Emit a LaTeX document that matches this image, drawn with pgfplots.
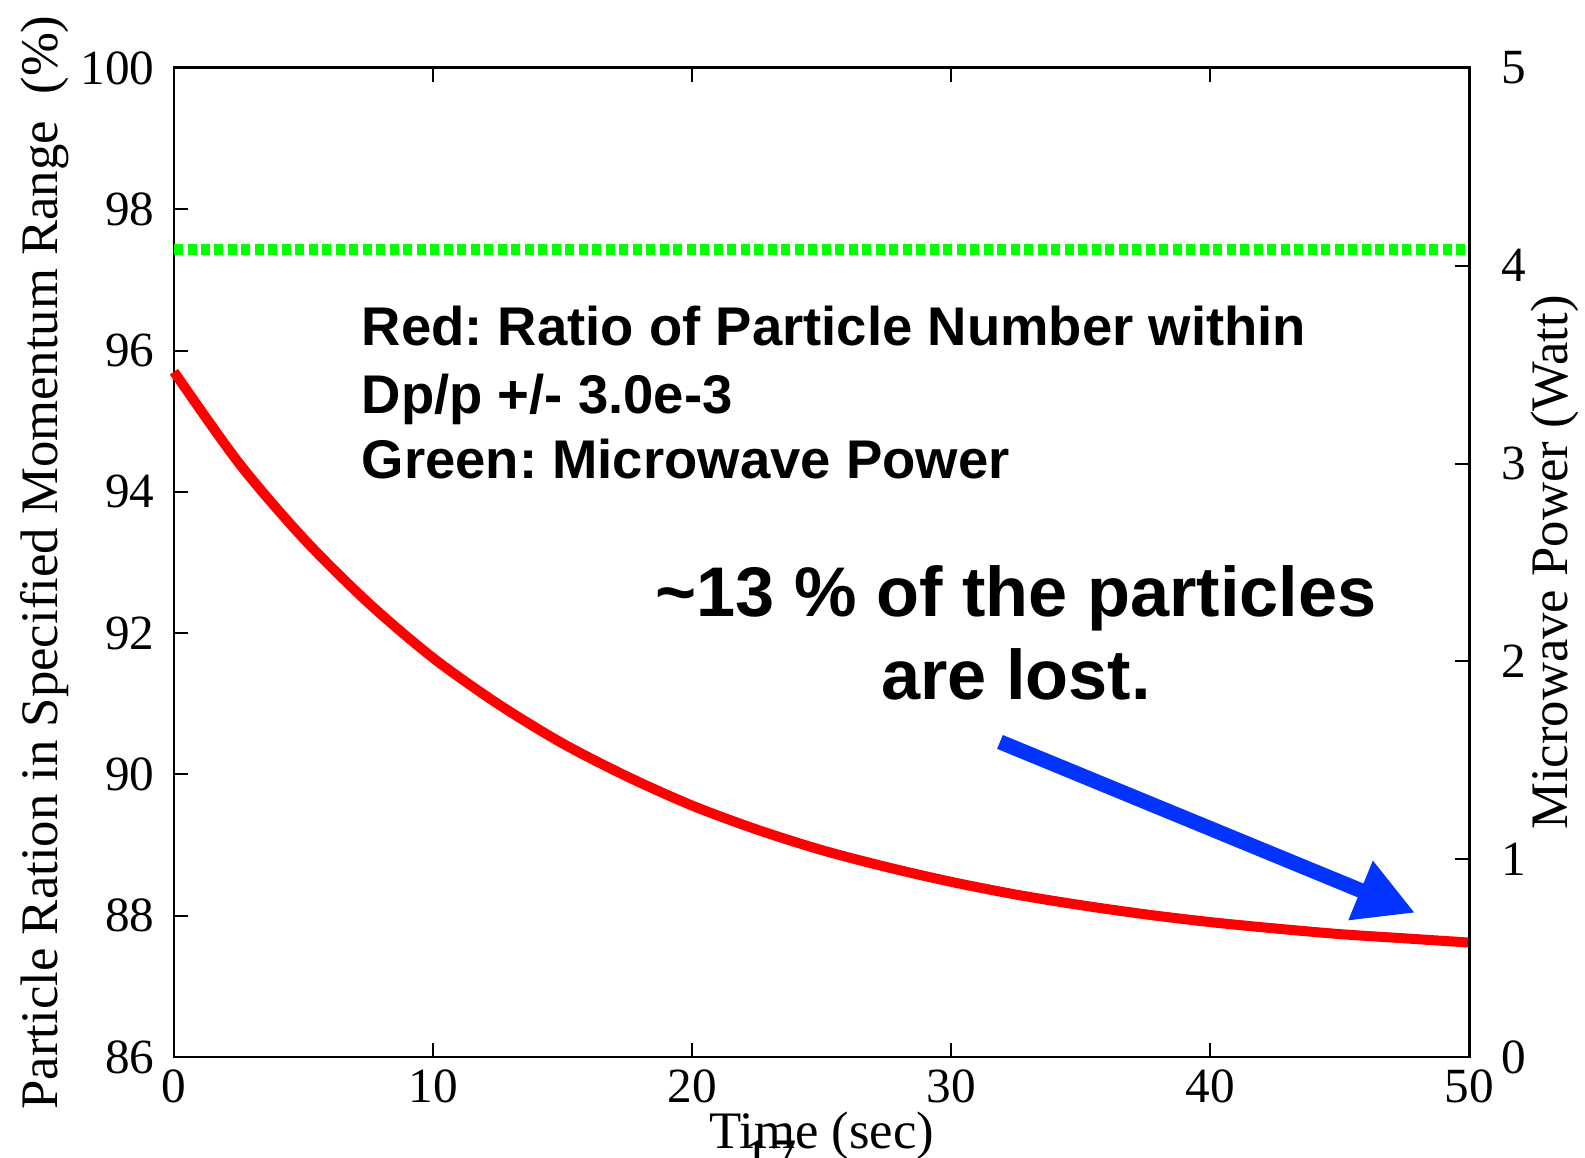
\documentclass[border=0pt]{standalone}
\usepackage{fontspec}
\setmainfont{Liberation Serif}
\newfontfamily\hv{Liberation Sans}
\usepackage{pgfplots}
\pgfplotsset{compat=1.18}
\usetikzlibrary{arrows.meta}
\definecolor{redline}{RGB}{255,0,0}
\definecolor{greenline}{RGB}{0,255,0}
\definecolor{arrowblue}{RGB}{3,51,255}
\frenchspacing
\begin{document}
\begin{tikzpicture}
\pgfplotsset{
  common/.style={
    scale only axis, width=12.95cm, height=9.89cm,
    xmin=0, xmax=50,
    /pgf/number format/assume math mode=true,
    tick label style={font=\fontsize{14}{16}\selectfont},
    major tick length=0.14cm,
    tick align=inside,
    axis line style={line width=0.85pt},
    tick style={line width=0.6pt, black},
  }
}
\begin{axis}[common,
  ymin=86, ymax=100,
  ytick={86,88,...,100},
  xtick={0,10,...,50},
  ytick pos=left,
  xtick pos=both,
  clip=false,
  xticklabel style={anchor=north, inner sep=0pt, yshift=-0.12cm},
  yticklabel style={anchor=east, inner sep=0pt, xshift=-0.19cm},
  every axis y label/.style={at={(axis description cs:-0.0903,0.5)}, rotate=90, anchor=base, inner sep=0pt, font=\fontsize{15}{17}\selectfont},
  every axis x label/.style={at={(axis description cs:0.5,-0.093)}, anchor=base, inner sep=0pt, font=\fontsize{15}{17}\selectfont},
  xlabel={Time (sec)},
  ylabel={Particle Ration in Specified Momentum Range\ \ (\%)},
]
\addplot[color=redline, line width=0.1cm, smooth] coordinates {
(0,95.70) (2.5,94.41) (5,93.34) (7.5,92.43) (10,91.65) (12.5,91.00)
(15,90.44) (17.5,89.97) (20,89.56) (22.5,89.22) (25,88.93) (27.5,88.69)
(30,88.48) (32.5,88.30) (35,88.15) (37.5,88.02) (40,87.91) (42.5,87.82)
(45,87.74) (47.5,87.68) (50,87.62)};
\node[anchor=base west, inner sep=0pt, font=\hv\bfseries\fontsize{15.5}{18}\selectfont] at (axis cs:7.22,96.065) {Red: Ratio of Particle Number within};
\node[anchor=base west, inner sep=0pt, font=\hv\bfseries\fontsize{15.5}{18}\selectfont] at (axis cs:7.22,95.116) {Dp/p +/- 3.0e-3};
\node[anchor=base west, inner sep=0pt, font=\hv\bfseries\fontsize{15.5}{18}\selectfont] at (axis cs:7.22,94.182) {Green: Microwave Power};
\node[anchor=base, inner sep=0pt, font=\hv\bfseries\fontsize{20}{24}\selectfont] at (axis cs:32.51,92.242) {\textasciitilde13 \% of the particles};
\node[anchor=base, inner sep=0pt, font=\hv\bfseries\fontsize{20}{24}\selectfont] at (axis cs:32.51,91.067) {are lost.};
\draw[-{Triangle[length=0.59cm,width=0.6cm]}, line width=0.15cm, color=arrowblue]
  (axis cs:31.89,90.46) -- (axis cs:47.92,88.04);
\end{axis}
\begin{axis}[common,
  ymin=0, ymax=5,
  ytick={0,1,...,5},
  axis y line*=right,
  axis x line=none,
  yticklabel style={anchor=west, inner sep=0pt, xshift=0.32cm},
  every axis y label/.style={at={(axis description cs:1.0764,0.5)}, rotate=90, anchor=base, inner sep=0pt, font=\fontsize{15}{17}\selectfont},
  ylabel={Microwave Power (Watt)},
]
\addplot[color=greenline, line width=0.11cm, dash pattern=on 0.09cm off 0.045cm] coordinates {(0,4.08) (50,4.08)};
\end{axis}
\node[anchor=north, inner sep=0pt, font=\fontsize{15}{17}\selectfont] at (5.96,-0.83) {17};
\pgfresetboundingbox
\path[use as bounding box] (-1.74,-1.01) rectangle (14.11,10.57);
\end{tikzpicture}
\end{document}
